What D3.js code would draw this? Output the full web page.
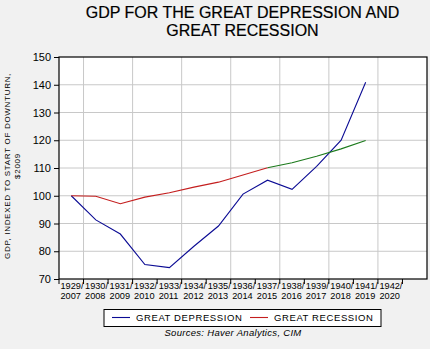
<!DOCTYPE html>
<html>
<head>
<meta charset="utf-8">
<title>GDP for the Great Depression and Great Recession</title>
<script src="https://cdn.jsdelivr.net/npm/d3@7"></script>
<style>
  body { margin: 0; background: #f1f1f1; }
  svg { display: block; font-family: "Liberation Sans", Arial, sans-serif; }
</style>
</head>
<body>
<script>
// chart data
var depYears = ["1929/", "1930/", "1931/", "1932/", "1933/", "1934/", "1935/", "1936/", "1937/", "1938/", "1939/", "1940/", "1941/", "1942/", ""];
var recYears = ["2007", "2008", "2009", "2010", "2011", "2012", "2013", "2014", "2015", "2016", "2017", "2018", "2019", "2020", ""];
var depression = [100, 91.3, 86.2, 75.2, 74.1, 81.8, 89.1, 100.6, 105.6, 102.3, 110.6, 120.0, 140.9];
var recession = [100, 99.8, 97.1, 99.5, 101.1, 103.1, 104.9, 107.5, 110.1];
var forecast = [null, null, null, null, null, null, null, null, 110.1, 111.9, 114.2, 116.9, 119.9];
var yTicks = [70, 80, 90, 100, 110, 120, 130, 140, 150];

var W = 430, H = 349;
var pL = 59, pR = 427, pT = 57, pB = 279;

var svg = d3.select("body").append("svg")
    .attr("width", W)
    .attr("height", H);

var x = d3.scaleBand()
    .domain(d3.range(depYears.length))
    .range([pL, pR]);
var y = d3.scaleLinear()
    .domain([70, 150])
    .range([pB, pT]);

// plot background
svg.append("rect")
    .attr("x", pL).attr("y", pT)
    .attr("width", pR - pL).attr("height", pB - pT)
    .attr("fill", "#fff");

// grid lines
svg.append("g").selectAll("line")
    .data(yTicks.slice(1, -1))
    .enter().append("line")
    .attr("x1", pL).attr("x2", pR)
    .attr("y1", function(d){ return y(d); })
    .attr("y2", function(d){ return y(d); })
    .attr("stroke", "#c8c8c8").attr("stroke-width", 1);

svg.append("g").selectAll("line")
    .data(d3.range(1, depYears.length, 2))
    .enter().append("line")
    .attr("x1", function(i){ return x(i); })
    .attr("x2", function(i){ return x(i); })
    .attr("y1", pT).attr("y2", pB)
    .attr("stroke", "#c8c8c8").attr("stroke-width", 1);

// frame
svg.append("rect")
    .attr("x", pL).attr("y", pT)
    .attr("width", pR - pL).attr("height", pB - pT)
    .attr("fill", "none").attr("stroke", "#000").attr("stroke-width", 1.2);

// y axis
var yAxis = svg.append("g")
    .attr("transform", "translate(" + pL + ",0)")
    .call(d3.axisLeft(y).tickValues(yTicks).tickSize(5).tickPadding(3));
yAxis.select(".domain").remove();
yAxis.selectAll("text").attr("font-size", 11).attr("fill", "#000")
    .attr("font-family", "Liberation Sans, Arial, sans-serif");

// x axis ticks at category boundaries
svg.append("g").selectAll("line")
    .data(d3.range(depYears.length))
    .enter().append("line")
    .attr("x1", function(i){ return x(i); })
    .attr("x2", function(i){ return x(i); })
    .attr("y1", pB).attr("y2", pB + 5)
    .attr("stroke", "#000");

var xl = svg.append("g").selectAll("text")
    .data(d3.range(depYears.length))
    .enter().append("text")
    .attr("font-size", 9.2)
    .attr("fill", "#000");
xl.append("tspan").attr("x", function(i){ return x(i) + 1.5; }).attr("y", 289)
    .text(function(i){ return depYears[i]; });
xl.append("tspan").attr("x", function(i){ return x(i) + 1.5; }).attr("y", 299)
    .text(function(i){ return recYears[i]; });

// lines
var line = d3.line()
    .defined(function(d){ return d != null; })
    .x(function(d, i){ return x(i) + x.bandwidth() / 2; })
    .y(function(d){ return y(d); });

svg.append("path").datum(depression)
    .attr("d", line).attr("fill", "none")
    .attr("stroke", "#0b0b94").attr("stroke-width", 1.1);
svg.append("path").datum(recession)
    .attr("d", line).attr("fill", "none")
    .attr("stroke", "#c41e1e").attr("stroke-width", 1.1);
svg.append("path").datum(forecast)
    .attr("d", line).attr("fill", "none")
    .attr("stroke", "#1c7a1c").attr("stroke-width", 1.1);

// title
svg.append("text").attr("x", 242.5).attr("y", 17.5)
    .attr("text-anchor", "middle").attr("font-size", 16).attr("fill", "#000")
    .attr("stroke", "#000").attr("stroke-width", 0.2)
    .text("GDP FOR THE GREAT DEPRESSION AND");
svg.append("text").attr("x", 242.5).attr("y", 35.5)
    .attr("text-anchor", "middle").attr("font-size", 16).attr("fill", "#000")
    .attr("stroke", "#000").attr("stroke-width", 0.2)
    .text("GREAT RECESSION");

// y title
var yt = svg.append("text")
    .attr("transform", "translate(10,166) rotate(-90)")
    .attr("text-anchor", "middle").attr("font-size", 8).attr("fill", "#000")
    .attr("letter-spacing", 0.7);
yt.append("tspan").attr("x", 0).attr("y", 0).text("GDP, INDEXED TO START OF DOWNTURN,");
yt.append("tspan").attr("x", 0).attr("y", 10).text("$2009");

// legend
var lg = svg.append("g");
lg.append("rect").attr("x", 104).attr("y", 309.5).attr("width", 277).attr("height", 17)
    .attr("fill", "#fff").attr("stroke", "#000").attr("stroke-width", 1);
var legendItems = [
  {name: "GREAT DEPRESSION", color: "#0b0b94", x0: 112},
  {name: "GREAT RECESSION", color: "#c41e1e", x0: 250}
];
legendItems.forEach(function(d){
  lg.append("line").attr("x1", d.x0).attr("x2", d.x0 + 18)
      .attr("y1", 317.5).attr("y2", 317.5)
      .attr("stroke", d.color).attr("stroke-width", 1.1);
  lg.append("text").attr("x", d.x0 + 24).attr("y", 321)
      .attr("font-size", 9.5).attr("letter-spacing", 0.6).attr("fill", "#000")
      .text(d.name);
});

// sources
svg.append("text").attr("x", 233).attr("y", 336)
    .attr("text-anchor", "middle").attr("font-size", 9.5)
    .attr("font-style", "italic").attr("letter-spacing", 0.3).attr("fill", "#000")
    .text("Sources:  Haver Analytics, CIM");
</script>
</body>
</html>
